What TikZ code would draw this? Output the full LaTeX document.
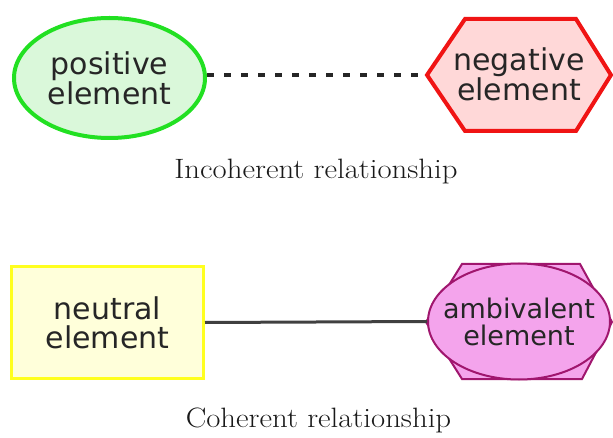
\documentclass[tikz,border=0pt]{standalone}
\usepackage{fontspec}
\usepackage{graphicx}
\newfontfamily\nodefont{DejaVu Sans}
\usetikzlibrary{shapes.geometric}
\definecolor{posline}{HTML}{22E022}
\definecolor{posfill}{HTML}{DAF8DA}
\definecolor{negline}{HTML}{F01414}
\definecolor{negfill}{HTML}{FFD8D8}
\definecolor{neuline}{HTML}{FFFF1E}
\definecolor{neufill}{HTML}{FFFFDA}
\definecolor{ambline}{HTML}{A0166E}
\definecolor{ambfill}{HTML}{F4A4EC}
\definecolor{txt}{HTML}{262626}
\newcommand{\capwide}[1]{\scalebox{1.1}[1]{#1}}
\tikzset{
  elemtext/.style={inner sep=0pt, align=center, text=txt, font=\nodefont\fontsize{30}{29}\selectfont},
  smalltext/.style={inner sep=0pt, align=center, text=txt, font=\nodefont\fontsize{27}{27}\selectfont},
  captext/.style={inner sep=0pt, anchor=base, text=black!90, font=\fontsize{28}{30}\selectfont},
  dotline/.style={draw=black!85, line width=4pt, dash pattern=on 7pt off 10pt},
  solidline/.style={draw=black!75, line width=3pt},
}
\begin{document}
\begin{tikzpicture}[x=1pt,y=-1pt]
\useasboundingbox (0,0) rectangle (613,438);
\begin{scope}
\clip (0,0) rectangle (613,438);
% incoherent
\node[elemtext, ellipse, draw=posline, fill=posfill, line width=4pt,
      minimum width=191pt, minimum height=120pt] (pos) at (109.5,78) {positive\\element};
\draw[draw=negline, fill=negfill, line width=4pt, line join=miter]
  (427,75) -- (465,19) -- (576,19) -- (611,75) -- (576,131) -- (465,131) -- cycle;
\coordinate (negL) at (427,75);
\node[elemtext] (neg) at (519,74) {negative\\element};
\draw[dotline] (pos.east |- negL) -- (negL);
\node[captext] (cap1) at (316,179) {\capwide{Incoherent relationship}};
% coherent
\node[elemtext, rectangle, draw=neuline, fill=neufill, line width=3pt,
      minimum width=192pt, minimum height=112pt] (neu) at (107.5,322.5) {neutral\\element};
\draw[draw=ambline, fill=ambfill, line width=2pt]
  (426,322) -- (462,264) -- (580,264) -- (612,322) -- (582,379) -- (462,379) -- cycle;
\node[ellipse, draw=ambline, fill=ambfill, line width=2pt, inner sep=0pt,
      minimum width=182pt, minimum height=116pt] (ambE) at (519,321.5) {};
\node[smalltext] (amb) at (ambE.center) {ambivalent\\element};
\draw[solidline] (neu.east) -- (ambE.west);
\node[captext] (cap2) at (318.5,427) {\capwide{Coherent relationship}};
\end{scope}
\end{tikzpicture}
\end{document}
